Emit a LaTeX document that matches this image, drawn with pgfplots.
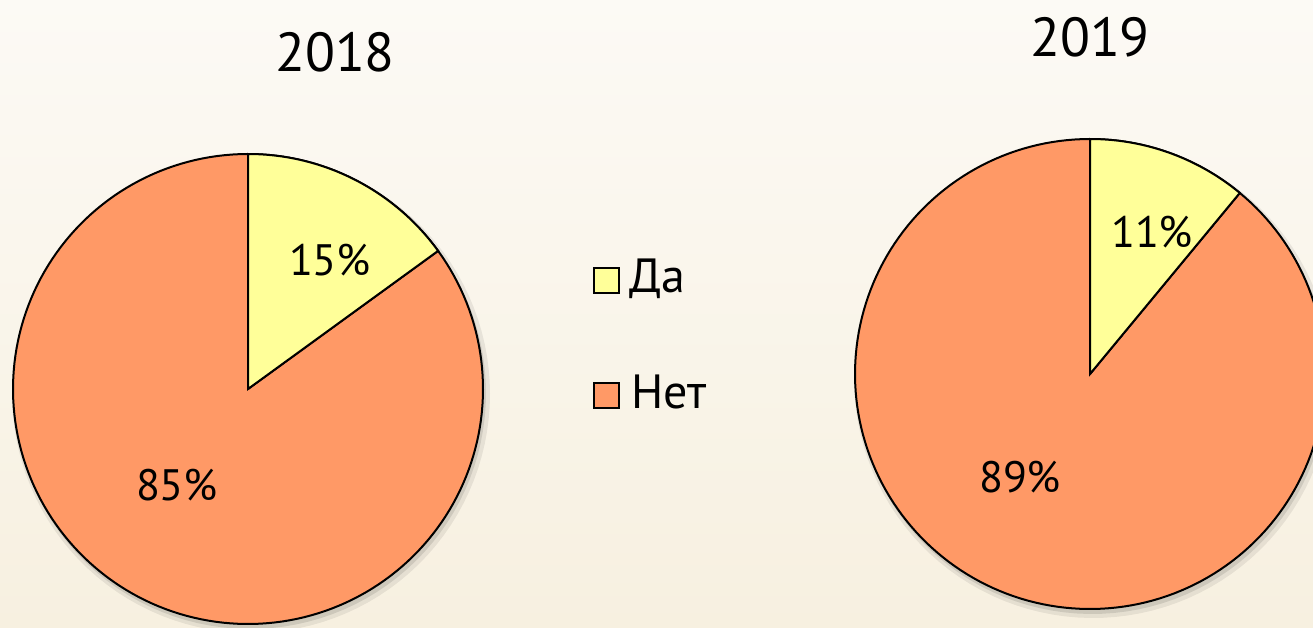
\documentclass[border=0pt]{standalone}
\usepackage{pgfplots}
\usepackage{pgfplotstable}
\pgfplotsset{compat=1.18}
\usepackage{fontspec}
\setmainfont{PT Sans}
\definecolor{da}{HTML}{FFFF99}
\definecolor{net}{HTML}{FF9966}
\definecolor{bgtop}{RGB}{252,250,245}
\definecolor{bgmid}{RGB}{255,255,253}
\definecolor{bgbot}{RGB}{247,240,224}
\pgfplotstableread{
year da net
2018 15 85
2019 11 89
}\pies
\begin{document}
\begin{tikzpicture}[x=1pt,y=1pt]
\useasboundingbox (0,0) rectangle (1313,627);
\shade[top color=bgtop, middle color=bgmid, bottom color=bgbot] (0,0) rectangle (1313,627);
\pgfplotstablegetelem{0}{da}\of\pies \let\daA\pgfplotsretval
\pgfplotstablegetelem{0}{net}\of\pies \let\netA\pgfplotsretval
\pgfplotstablegetelem{1}{da}\of\pies \let\daB\pgfplotsretval
\pgfplotstablegetelem{1}{net}\of\pies \let\netB\pgfplotsretval
\pgfmathsetmacro\angA{90-3.6*\daA}
\pgfmathsetmacro\angB{90-3.6*\daB}
\begin{axis}[at={(0,0)}, anchor=south west, x=1pt, y=1pt,
  xmin=0, xmax=1313, ymin=0, ymax=627, hide axis]
% shadows
\addplot[fill=black, draw=none, opacity=0.07, domain=0:360, samples=120] ({251+239*cos(x)},{233+239*sin(x)}) -- cycle;
\addplot[fill=black, draw=none, opacity=0.10, domain=0:360, samples=120] ({250+236*cos(x)},{234+236*sin(x)}) -- cycle;
\addplot[fill=black, draw=none, opacity=0.07, domain=0:360, samples=120] ({1093+239*cos(x)},{248+239*sin(x)}) -- cycle;
\addplot[fill=black, draw=none, opacity=0.10, domain=0:360, samples=120] ({1092+236*cos(x)},{249+236*sin(x)}) -- cycle;
% pie 2018
\addplot[fill=net, draw=black, line width=2pt, domain=\angA-360:\angA, samples=200] ({248+235*cos(x)},{238+235*sin(x)}) -- (axis cs:248,238) -- cycle;
\addplot[fill=da, draw=black, line width=2pt, domain=\angA:90, samples=60] ({248+235*cos(x)},{238+235*sin(x)}) -- (axis cs:248,238) -- cycle;
% pie 2019
\addplot[fill=net, draw=black, line width=2pt, domain=\angB-360:\angB, samples=200] ({1090+235*cos(x)},{253+235*sin(x)}) -- (axis cs:1090,253) -- cycle;
\addplot[fill=da, draw=black, line width=2pt, domain=\angB:90, samples=60] ({1090+235*cos(x)},{253+235*sin(x)}) -- (axis cs:1090,253) -- cycle;
% labels
\node[font=\fontsize{44}{48}\selectfont] at (axis cs:330,367) {\daA\%};
\node[font=\fontsize{44}{48}\selectfont] at (axis cs:177,142) {\netA\%};
\node[font=\fontsize{44}{48}\selectfont] at (axis cs:1152,395) {\daB\%};
\node[font=\fontsize{44}{48}\selectfont] at (axis cs:1020,150) {\netB\%};
\end{axis}
% titles
\node[font=\fontsize{55}{60}\selectfont] at (335,575) {2018};
\node[font=\fontsize{55}{60}\selectfont] at (1090,590) {2019};
% legend
\draw[fill=da, line width=1.4pt] (594,334) rectangle (619,359);
\draw[fill=net, line width=1.4pt] (594,219) rectangle (619,244);
\node[anchor=base west, inner sep=0pt, font=\fontsize{48}{52}\selectfont] at (629,334) {Да};
\node[anchor=base west, inner sep=0pt, font=\fontsize{48}{52}\selectfont] at (631,219) {Нет};
\end{tikzpicture}
\end{document}
